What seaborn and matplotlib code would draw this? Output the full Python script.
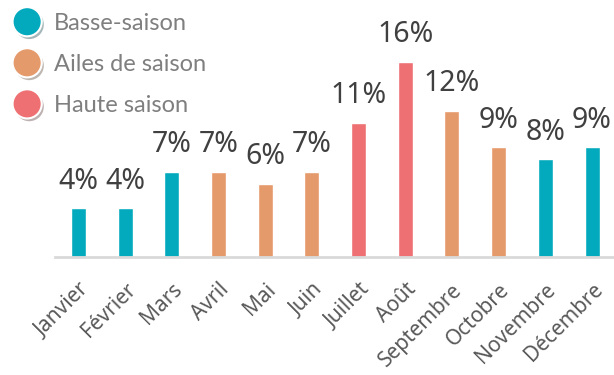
import matplotlib
matplotlib.use("Agg")
import matplotlib.pyplot as plt
import matplotlib.patheffects as pe
from matplotlib.lines import Line2D
import seaborn as sns
import pandas as pd

months = ["Janvier", "Février", "Mars", "Avril", "Mai", "Juin", "Juillet",
          "Août", "Septembre", "Octobre", "Novembre", "Décembre"]
shares = [4, 4, 7, 7, 6, 7, 11, 16, 12, 9, 8, 9]
seasons = ["Basse-saison", "Basse-saison", "Basse-saison", "Ailes de saison",
           "Ailes de saison", "Ailes de saison", "Haute saison", "Haute saison",
           "Ailes de saison", "Ailes de saison", "Basse-saison", "Basse-saison"]
season_order = ["Basse-saison", "Ailes de saison", "Haute saison"]
season_colors = {"Basse-saison": "#03AABD",
                 "Ailes de saison": "#E59A6C",
                 "Haute saison": "#EE7073"}

df = pd.DataFrame({"mois": months, "part": shares, "saison": seasons})

sns.set_theme(style="white")
plt.rcParams["font.family"] = ["Noto Sans", "DejaVu Sans"]

fig = plt.figure(figsize=(6.14, 3.75), dpi=100)
ax = fig.add_axes([55 / 614, (375 - 257) / 375, 559 / 614, 257 / 375])

sns.barplot(data=df, x="mois", y="part", hue="saison", hue_order=season_order,
            palette=season_colors, dodge=False, width=0.32, order=months,
            ax=ax, legend=False, saturation=1)

# percentage labels above each bar
for bar in ax.patches:
    h = bar.get_height()
    if h != h or h == 0:
        continue
    ax.annotate(f"{int(round(h))}%", (bar.get_x() + bar.get_width() / 2, h),
                xytext=(0, 14), textcoords="offset points", ha="center",
                va="baseline", fontsize=20.5, color="#404040")

ax.set_xlim(-0.5, 11.47)
ax.set_ylim(0, 21.07)
ax.set_xlabel("")
ax.set_ylabel("")
ax.set_yticks([])
for s in ["top", "right", "left"]:
    ax.spines[s].set_visible(False)
ax.spines["bottom"].set_color("#D9D9D9")
ax.spines["bottom"].set_linewidth(2)
ax.tick_params(axis="x", length=0, pad=16)
ax.set_xticks(range(len(months)))
ax.set_xticklabels(months, rotation=45, ha="right", rotation_mode="anchor",
                   fontsize=15, color="#595959")

handles = [Line2D([0], [0], marker="o", linestyle="none", markersize=21,
                  markerfacecolor=season_colors[s], markeredgecolor="white",
                  markeredgewidth=1.5,
                  path_effects=[pe.SimplePatchShadow(offset=(1.5, -2), alpha=0.35),
                                pe.Normal()])
           for s in season_order]
leg = fig.legend(handles, season_order, loc="upper left",
                 bbox_to_anchor=(0.0, 1.0), frameon=False,
                 labelspacing=0.85, handlelength=1.2, handletextpad=0.55,
                 borderpad=0.35, borderaxespad=0.2,
                 prop={"family": ["Lato", "DejaVu Sans"], "size": 17})
for t in leg.get_texts():
    t.set_color("#7F7F7F")

fig.savefig("out.png", dpi=100)
